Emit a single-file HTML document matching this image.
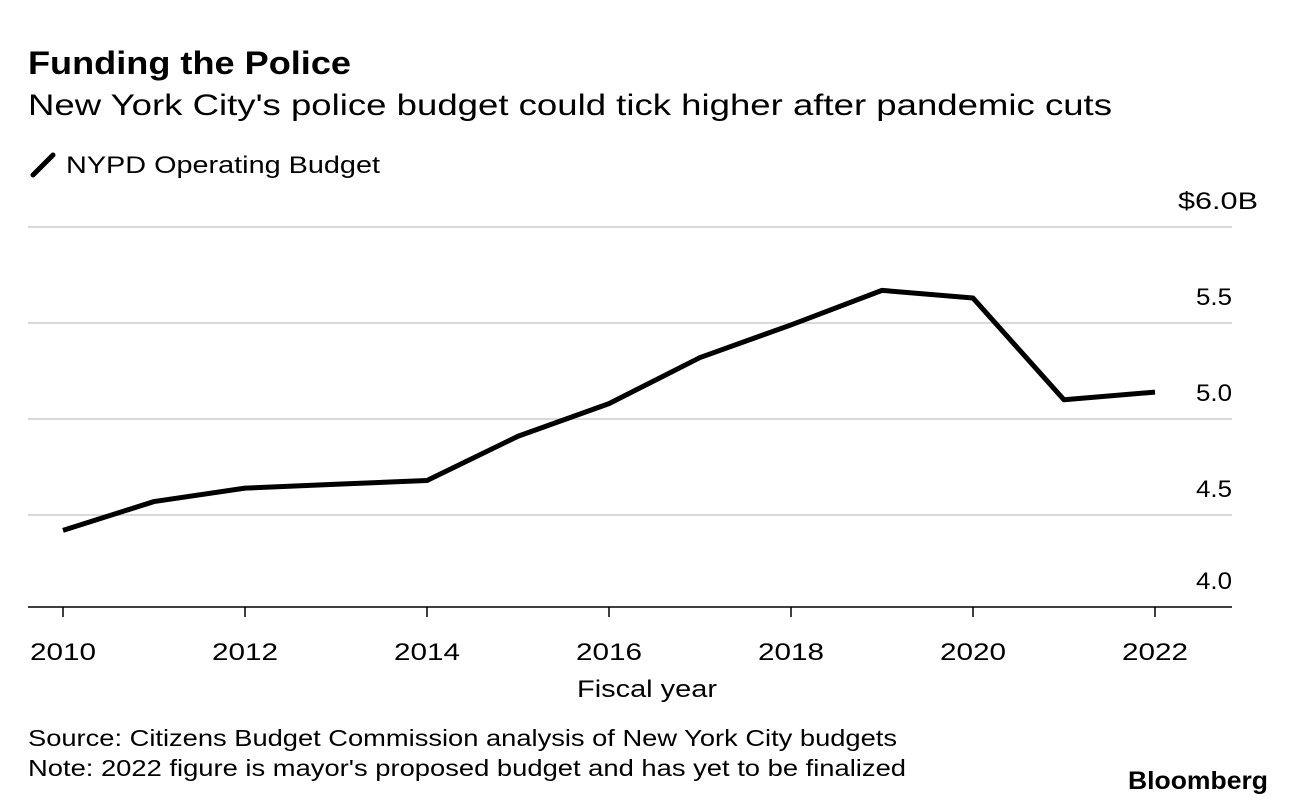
<!DOCTYPE html>
<html><head><meta charset="utf-8"><style>
body{margin:0;background:#fff;font-family:"Liberation Sans",sans-serif;}
svg text{font-family:"Liberation Sans",sans-serif;}
</style></head><body>
<svg width="1296" height="806" viewBox="0 0 1296 806">
<text x="28" y="74" font-size="32" font-weight="bold" fill="#000" textLength="323" lengthAdjust="spacingAndGlyphs">Funding the Police</text>
<text x="28" y="115" font-size="30" fill="#000" textLength="1084" lengthAdjust="spacingAndGlyphs">New York City's police budget could tick higher after pandemic cuts</text>
<line x1="33" y1="175" x2="53" y2="155" stroke="#000" stroke-width="5" stroke-linecap="round"/>
<text x="66" y="173" font-size="24" fill="#000" textLength="314" lengthAdjust="spacingAndGlyphs">NYPD Operating Budget</text>
<g id="grid"></g>
<g id="ticks"></g>
<path id="line" fill="none" stroke="#000" stroke-width="5" stroke-linejoin="round"/>
<text x="577" y="697" font-size="24" fill="#000" textLength="140" lengthAdjust="spacingAndGlyphs">Fiscal year</text>
<text x="28" y="746" font-size="23" fill="#000" textLength="869" lengthAdjust="spacingAndGlyphs">Source: Citizens Budget Commission analysis of New York City budgets</text>
<text x="28" y="776" font-size="23" fill="#000" textLength="878" lengthAdjust="spacingAndGlyphs">Note: 2022 figure is mayor's proposed budget and has yet to be finalized</text>
<text x="1128" y="789" font-size="25" font-weight="bold" fill="#000" textLength="140" lengthAdjust="spacingAndGlyphs">Bloomberg</text>
</svg>
<script>
const years=[2010,2011,2012,2013,2014,2015,2016,2017,2018,2019,2020,2021,2022];
const budget=[4.42,4.57,4.64,4.66,4.68,4.91,5.08,5.32,5.49,5.67,5.63,5.10,5.14];
const yTicks=[4.0,4.5,5.0,5.5,6.0];
const yTickLabels=["4.0","4.5","5.0","5.5","$6.0B"];
const xTicks=[2010,2012,2014,2016,2018,2020,2022];
const NS="http://www.w3.org/2000/svg";
const xs=v=>63+(v-2010)*(1155-63)/12;
const ys=v=>227+(6.0-v)*192;
const grid=document.getElementById('grid'),ticks=document.getElementById('ticks');
yTicks.forEach((t,i)=>{
  const y=t===4.0?607:ys(t);
  const l=document.createElementNS(NS,'line');
  l.setAttribute('x1',28);l.setAttribute('x2',1232);l.setAttribute('y1',y);l.setAttribute('y2',y);
  l.setAttribute('stroke',t===4.0?'#000':'#d9d9d9');l.setAttribute('stroke-width',t===4.0?1.5:2);
  
  
  grid.appendChild(l);
  const tx=document.createElementNS(NS,'text');
  const lbl=yTickLabels[i];
  const isTop=lbl.indexOf('$')===0;
  tx.setAttribute('x',isTop?1178:1196);tx.setAttribute('y',y-18);tx.setAttribute('font-size','24');
  tx.setAttribute('textLength',isTop?80:36);tx.setAttribute('lengthAdjust','spacingAndGlyphs');
  tx.textContent=lbl;
  
  
  grid.appendChild(tx);
});
xTicks.forEach(t=>{
  const x=xs(t);
  const l=document.createElementNS(NS,'line');
  l.setAttribute('x1',x);l.setAttribute('x2',x);l.setAttribute('y1',607);l.setAttribute('y2',617);
  l.setAttribute('stroke','#000');l.setAttribute('stroke-width',1.5);
  
  
  ticks.appendChild(l);
  const tx=document.createElementNS(NS,'text');
  tx.setAttribute('x',x-33);tx.setAttribute('y',660);tx.setAttribute('font-size','24');
  tx.setAttribute('textLength',66);tx.setAttribute('lengthAdjust','spacingAndGlyphs');
  tx.textContent=t;
  
  
  ticks.appendChild(tx);
});
document.getElementById('line').setAttribute('d',years.map((y,i)=>(i?'L':'M')+xs(y)+','+ys(budget[i])).join(' '));
</script>
</body></html>
